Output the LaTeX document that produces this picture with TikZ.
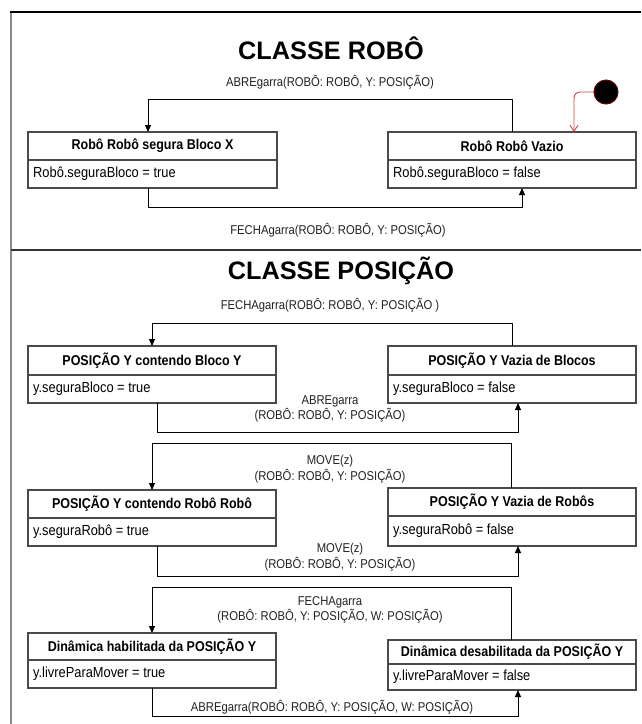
\documentclass[tikz,border=0pt]{standalone}
\usepackage{fontspec}
\setmainfont{Liberation Sans}
\newfontfamily\narrowsans[FakeStretch=0.88]{Liberation Sans}
\usetikzlibrary{arrows.meta}

\definecolor{boxgray}{HTML}{4A4A4A}
\definecolor{framegray}{HTML}{8A8A8A}
\definecolor{initred}{HTML}{D04848}
\definecolor{labelgray}{HTML}{222222}

% state box: name, x1, y1, x2, ydiv, y2, title, attribute
\newcommand\umlstate[8]{%
  \node[statebox, minimum width={(#4-#2)*1pt}, minimum height={(#6-#3)*1pt}] (#1) at (#2,#3) {};
  \draw[boxline] (#1.west |- 0,#5) -- (#1.east |- 0,#5);
  \node[statetitle] (#1-title) at ({(#2+#4)/2},{(#3+#5)/2}) {#7};
  \node[stateattr] (#1-attr) at ({#2+5},{(#5+#6)/2}) {#8};
}

\begin{document}
\begin{tikzpicture}[x=1pt,y=-1pt,
  statebox/.style={draw=boxgray, line width=1.1pt, fill=white, inner sep=0pt, outer sep=0pt, anchor=north west},
  boxline/.style={draw=boxgray, line width=1.1pt},
  statetitle/.style={inner sep=0pt, font=\narrowsans\fontsize{14.2}{16}\selectfont\bfseries},
  stateattr/.style={inner sep=0pt, anchor=west, font=\narrowsans\fontsize{14.6}{16}\selectfont},
  lbl/.style={inner sep=0pt, text=labelgray, align=center, font=\narrowsans\fontsize{12.8}{15.5}\selectfont},
  classtitle/.style={inner sep=0pt, font=\fontsize{25.3}{28}\selectfont\bfseries},
  conn/.style={draw=black, line width=0.9pt, -{Triangle[length=7pt,width=6pt]}},
  initarr/.style={draw=initred, line width=0.9pt, rounded corners=6pt, -{Straight Barb[length=6pt,width=8pt]}},
  initdot/.style={circle, fill=black, draw=black!60!red, line width=1pt, minimum size=24pt, inner sep=0pt},
]
\useasboundingbox (0,0) rectangle (641,724);
\fill[white] (0,0) rectangle (641,724);

% outer frame and section divider
\draw[framegray, line width=2pt] (11,12) -- (11,724);
\draw[black, line width=1.5pt] (10,12) -- (641,12);
\draw[black!80, line width=2pt] (11,249.5) -- (641,249.5);

% ---------------- Robot class ----------------
\node[classtitle] (robotitle) at (331,48) {CLASSE ROBÔ};

\umlstate{rs}{28}{132}{277}{160}{188}{Robô Robô segura Bloco X}{Robô.seguraBloco = true}
\umlstate{rv}{388}{132}{636}{160}{188}{Robô Robô Vazio}{Robô.seguraBloco = false}

\node[lbl] (abre1) at (330,82) {ABREgarra(ROBÔ: ROBÔ, Y: POSIÇÃO)};
\draw[conn] (rv.north -| 512,0) |- (148,99) -- (rs.north -| 148,0);

\node[lbl] (fecha1) at (338,230) {FECHAgarra(ROBÔ: ROBÔ, Y: POSIÇÃO)};
\draw[conn] (rs.south -| 148,0) |- (522,207) -- (rv.south -| 522,0);

\node[initdot] (ini) at (606,92) {};
\draw[initarr] (ini.west) -| (rv.north -| 574,0);

% ---------------- Position class ----------------
\node[classtitle] (postitle) at (341,271) {CLASSE POSIÇÃO};

\umlstate{pb}{28}{346}{276}{375}{403}{POSIÇÃO Y contendo Bloco Y}{y.seguraBloco = true}
\umlstate{pvb}{388}{346}{636}{375}{403}{POSIÇÃO Y Vazia de Blocos}{y.seguraBloco = false}

\node[lbl] (fecha2) at (330,305) {FECHAgarra(ROBÔ: ROBÔ, Y: POSIÇÃO )};
\draw[conn] (pvb.north -| 512,0) |- (152,323) -- (pb.north -| 152,0);

\node[lbl] (abre2) at (330,409) {ABREgarra\\(ROBÔ: ROBÔ, Y: POSIÇÃO)};
\draw[conn] (pb.south -| 157,0) |- (518,432) -- (pvb.south -| 518,0);

\umlstate{pr}{28}{490}{276}{518}{546}{POSIÇÃO Y contendo Robô Robô}{y.seguraRobô = true}
\umlstate{pvr}{388}{488}{636}{516}{546}{POSIÇÃO Y Vazia de Robôs}{y.seguraRobô = false}

\node[lbl] (move1) at (330,469) {MOVE(z)\\(ROBÔ: ROBÔ, Y: POSIÇÃO)};
\draw[conn] (pvr.north -| 511,0) |- (152,443) -- (pr.north -| 152,0);

\node[lbl] (move2) at (340,557) {MOVE(z)\\(ROBÔ: ROBÔ, Y: POSIÇÃO)};
\draw[conn] (pr.south -| 157,0) |- (518,576) -- (pvr.south -| 518,0);

\umlstate{dh}{28}{633}{276}{660}{688}{Dinâmica habilitada da POSIÇÃO Y}{y.livreParaMover = true}
\umlstate{dd}{388}{640}{636}{664}{690}{Dinâmica desabilitada da POSIÇÃO Y}{y.livreParaMover = false}

\node[lbl] (fecha3) at (330,610) {FECHAgarra\\(ROBÔ: ROBÔ, Y: POSIÇÃO, W: POSIÇÃO)};
\draw[conn] (dd.north -| 511,0) |- (152,587) -- (dh.north -| 152,0);

\node[lbl] (abre3) at (332,707) {ABREgarra(ROBÔ: ROBÔ, Y: POSIÇÃO, W: POSIÇÃO)};
\draw[conn] (dh.south -| 152,0) |- (518,716) -- (dd.south -| 518,0);
\end{tikzpicture}
\end{document}
